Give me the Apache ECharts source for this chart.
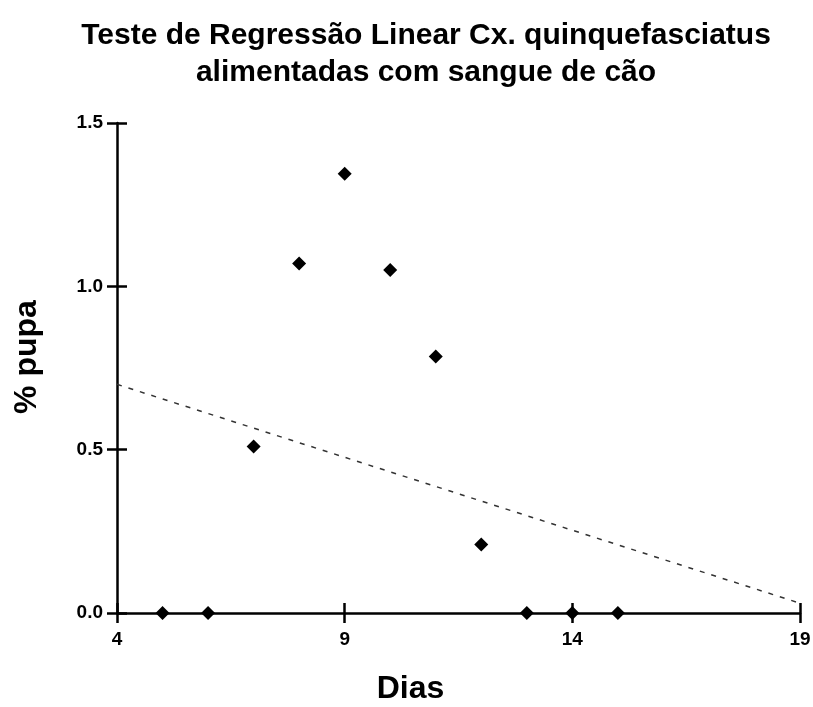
<!DOCTYPE html>
<html><head><meta charset="utf-8">
<script src="https://cdn.jsdelivr.net/npm/echarts@6/dist/echarts.min.js"></script>
<style>html,body{margin:0;padding:0;background:#fff}#c{width:813px;height:707px}</style>
</head><body><div id="c"></div>
<script>
const dias = [5, 6, 7, 8, 9, 10, 11, 12, 13, 14, 15];
const pupa = [0, 0, 0.51, 1.07, 1.345, 1.05, 0.785, 0.21, 0, 0, 0];
const regX = [4, 19];
const regY = [0.70, 0.03];
const xTicks = [4, 9, 14, 19];
const yTicks = [0, 0.5, 1.0, 1.5];

const font = '"Liberation Sans", Arial, sans-serif';
const chart = echarts.init(document.getElementById('c'));
const xBase = {type:'value', min:4, max:19, interval:5, splitLine:{show:false}};
chart.setOption({
  animation:false,
  backgroundColor:'#fff',
  title:{text:'Teste de Regressão Linear Cx. quinquefasciatus\nalimentadas com sangue de cão', left:421, top:12,
    textAlign:'center',
    textStyle:{fontFamily:font, fontWeight:'bold', fontSize:30, lineHeight:37, color:'#000'}},
  grid:{left:117, right:13, top:123, bottom:94, containLabel:false, outerBoundsMode:'none'},
  xAxis:[
    Object.assign({}, xBase, {position:'bottom', name:'Dias', nameLocation:'middle', nameGap:60,
      nameTextStyle:{fontFamily:font, fontWeight:'bold', fontSize:32, color:'#000', padding:[0,96,0,0]},
      axisLine:{show:true, lineStyle:{color:'#000', width:2.5}},
      axisTick:{show:true, inside:false, length:10, lineStyle:{color:'#000', width:2.5}},
      axisLabel:{fontFamily:font, fontWeight:'bold', fontSize:19, color:'#000', margin:17,
        formatter:v => xTicks.includes(v) ? String(v) : ''}}),
    Object.assign({}, xBase, {position:'bottom', axisLine:{show:false},
      axisTick:{show:true, inside:true, length:10, lineStyle:{color:'#000', width:2.5}},
      axisLabel:{show:false}})
  ],
  yAxis:[
    {type:'value', min:0, max:1.5, interval:0.5, splitLine:{show:false},
      name:'% pupa', nameLocation:'middle', nameGap:74, nameRotate:90,
      nameTextStyle:{fontFamily:font, fontWeight:'bold', fontSize:32, color:'#000', padding:[0,0,0,22]},
      axisLine:{show:true, lineStyle:{color:'#000', width:2.5}},
      axisTick:{show:true, inside:false, length:10, lineStyle:{color:'#000', width:2.5}},
      axisLabel:{fontFamily:font, fontWeight:'bold', fontSize:19, color:'#000', margin:14,
        formatter:v => yTicks.includes(v) ? v.toFixed(1) : ''}},
    {type:'value', min:0, max:1.5, interval:0.5, splitLine:{show:false}, position:'left',
      axisLine:{show:false},
      axisTick:{show:true, inside:true, length:10, lineStyle:{color:'#000', width:2.5}},
      axisLabel:{show:false}}
  ],
  series:[
    {type:'line', xAxisIndex:0, yAxisIndex:0, data:regX.map((x,i)=>[x, regY[i]]), symbol:'none',
      lineStyle:{color:'#333', width:1.5, type:[5,7]}, z:1},
    {type:'scatter', xAxisIndex:0, yAxisIndex:0, data:dias.map((x,i)=>[x, pupa[i]]), symbol:'diamond', symbolSize:14,
      itemStyle:{color:'#000', opacity:1}, z:3}
  ]
});
</script></body></html>
